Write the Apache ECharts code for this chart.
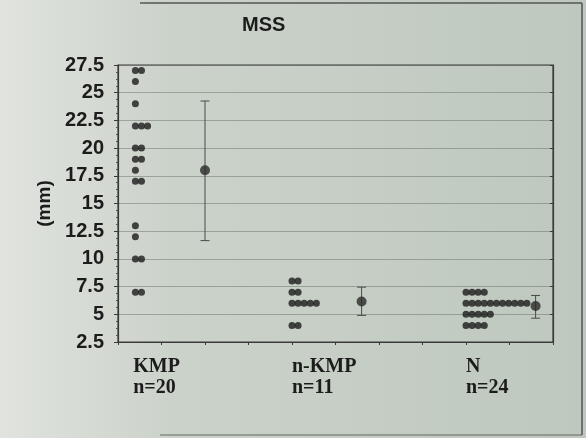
<!DOCTYPE html>
<html lang="en">
<head>
<meta charset="UTF-8">
<title>MSS</title>
<script src="https://cdn.jsdelivr.net/npm/echarts@6/dist/echarts.min.js"></script>
<style>
    html, body { margin: 0; padding: 0; }
    #main { width: 586px; height: 438px; }
</style>
</head>
<body>
<div id="main"></div>
<script>
// groups and their sizes
var groups = ['KMP', 'n-KMP', 'N'];
var groupN = [20, 11, 24];

// individual measurements (mm), one dot each
var kmpValues = [27, 27, 26, 24, 22, 22, 22, 20, 20, 19, 19, 18, 17, 17, 13, 12, 10, 10, 7, 7];
var nkmpValues = [8, 8, 7, 7, 6, 6, 6, 6, 6, 4, 4];
var nValues = [7, 7, 7, 7, 6, 6, 6, 6, 6, 6, 6, 6, 6, 6, 6, 5, 5, 5, 5, 5, 4, 4, 4, 4];

// mean and +/- SD per group
var means = [18.0, 6.15, 5.75];
var sdLow = [11.65, 4.9, 4.65];
var sdHigh = [24.25, 7.45, 6.7];

// y axis ticks
var yMin = 2.5, yMax = 27.5, yStep = 2.5;

// horizontal placement on a 0..10 x scale
var dotStart = [0.4, 4.0, 8.0];
var dotStep = 0.14;
var barX = [2.0, 5.6, 9.6];
var labelX = [0.35, 4.0, 8.0];

var allValues = [kmpValues, nkmpValues, nValues];

// stack equal values side by side
var dots = [];
allValues.forEach(function (vals, g) {
    var seen = {};
    vals.forEach(function (v) {
        var k = seen[v] || 0;
        dots.push([dotStart[g] + k * dotStep, v]);
        seen[v] = k + 1;
    });
});

var meanPts = means.map(function (m, i) { return [barX[i], m]; });
var barData = means.map(function (m, i) { return [barX[i], sdLow[i], sdHigh[i]]; });

var ink = '#1c1c1c';

var option = {
    animation: false,
    backgroundColor: {
        type: 'linear', x: 0, y: 0, x2: 1, y2: 0,
        colorStops: [
            { offset: 0, color: '#e0e3de' },
            { offset: 0.3, color: '#cbd2ca' },
            { offset: 1, color: '#bec8be' }
        ]
    },
    title: {
        text: 'MSS',
        left: 242,
        top: 15,
        padding: 0,
        textStyle: { fontFamily: 'Liberation Sans', fontWeight: 'bold', fontSize: 20, color: ink }
    },
    grid: {
        left: 118, right: 33, top: 65, bottom: 96,
        show: true,
        borderColor: '#3a3a3a',
        borderWidth: 1.2,
        backgroundColor: 'transparent'
    },
    xAxis: {
        type: 'value',
        min: 0, max: 10, interval: 1,
        axisLine: { show: true, lineStyle: { color: '#3a3a3a', width: 1.2 } },
        axisTick: { show: true, length: 3, lineStyle: { color: '#3a3a3a' } },
        splitLine: { show: false },
        axisLabel: {
            customValues: labelX,
            align: 'left',
            margin: 14,
            fontFamily: 'Liberation Serif',
            fontWeight: 'bold',
            fontSize: 20,
            lineHeight: 21,
            color: ink,
            formatter: function (v) {
                var i = labelX.indexOf(v);
                if (i < 0) return '';
                return groups[i] + '\nn=' + groupN[i];
            }
        }
    },
    yAxis: [{
        type: 'value',
        min: yMin, max: yMax, interval: yStep,
        name: '(mm)',
        nameLocation: 'middle',
        nameGap: 60,
        nameTextStyle: { fontFamily: 'Liberation Sans', fontWeight: 'bold', fontSize: 19, color: ink },
        axisLine: { show: true, lineStyle: { color: '#3a3a3a', width: 1.2 } },
        axisTick: { show: true, length: 4, lineStyle: { color: '#3a3a3a' } },
        minorTick: { show: true, splitNumber: 4, length: 2, lineStyle: { color: '#555' } },
        splitLine: { show: true, lineStyle: { color: 'rgba(80,90,80,0.4)', width: 1 } },
        axisLabel: {
            margin: 14,
            fontFamily: 'Liberation Sans',
            fontWeight: 'bold',
            fontSize: 20,
            color: ink,
            formatter: function (v) { return String(v); }
        }
    }, {
        type: 'value',
        position: 'right',
        min: yMin, max: yMax, interval: yStep,
        axisLine: { show: true, lineStyle: { color: '#3a3a3a', width: 1.2 } },
        axisTick: { show: true, inside: true, length: 3, lineStyle: { color: '#3a3a3a' } },
        splitLine: { show: false },
        axisLabel: { show: false }
    }],
    series: [{
        name: 'values',
        type: 'scatter',
        data: dots,
        symbol: 'circle',
        symbolSize: 7,
        itemStyle: { color: ink },
        z: 3
    }, {
        name: 'sd',
        type: 'custom',
        data: barData,
        renderItem: function (params, api) {
            var x = api.value(0);
            var lo = api.coord([x, api.value(1)]);
            var hi = api.coord([x, api.value(2)]);
            var cap = 4.5;
            var st = { stroke: '#4a4a4a', lineWidth: 1 };
            return {
                type: 'group',
                children: [
                    { type: 'line', shape: { x1: lo[0], y1: lo[1], x2: hi[0], y2: hi[1] }, style: st },
                    { type: 'line', shape: { x1: lo[0] - cap, y1: lo[1], x2: lo[0] + cap, y2: lo[1] }, style: st },
                    { type: 'line', shape: { x1: hi[0] - cap, y1: hi[1], x2: hi[0] + cap, y2: hi[1] }, style: st }
                ]
            };
        },
        z: 2
    }, {
        name: 'mean',
        type: 'scatter',
        data: meanPts,
        symbol: 'circle',
        symbolSize: 10,
        itemStyle: { color: '#2a2a2a' },
        z: 4
    }],
    graphic: [
        { type: 'line', shape: { x1: 140, y1: 3, x2: 582, y2: 3 }, style: { stroke: '#555', lineWidth: 1.5 } },
        { type: 'line', shape: { x1: 582, y1: 3, x2: 582, y2: 435 }, style: { stroke: '#555', lineWidth: 1.5 } },
        { type: 'line', shape: { x1: 160, y1: 435, x2: 582, y2: 435 }, style: { stroke: '#666', lineWidth: 1.2 } }
    ]
};

var myChart = echarts.init(document.getElementById('main'));
myChart.setOption(option);
</script>
</body>
</html>
